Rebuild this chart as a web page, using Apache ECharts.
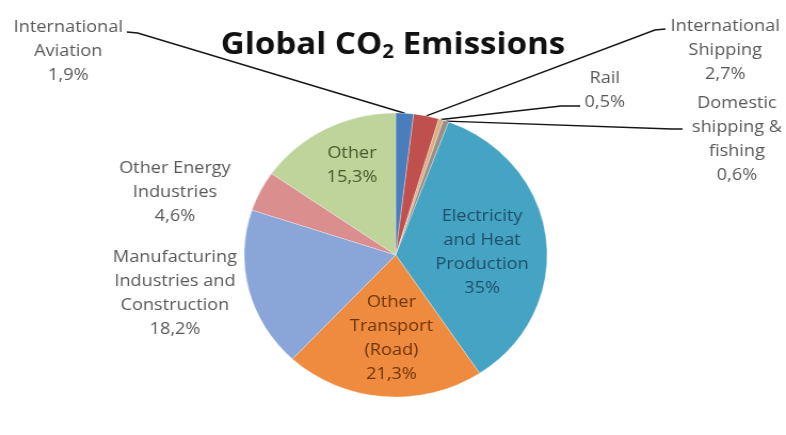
<!DOCTYPE html>
<html>
<head>
<meta charset="utf-8">
<script src="https://cdn.jsdelivr.net/npm/echarts@6/dist/echarts.min.js"></script>
<style>
  html, body { margin: 0; padding: 0; background: #fff; overflow: hidden; }
  #wrap { width: 786px; height: 435px; overflow: hidden; }
  /* chart is drawn slightly narrower and widened to give the pie its oval look */
  #chart { width: 737px; height: 435px; transform: scaleX(1.0665); transform-origin: 0 0; }
</style>
</head>
<body>
<div id="wrap"><div id="chart"></div></div>
<script>
// Sectors, clockwise from 12 o'clock
const sectors = [
  'International Aviation',
  'International Shipping',
  'Rail',
  'Domestic shipping & fishing',
  'Electricity and Heat Production',
  'Other Transport (Road)',
  'Manufacturing Industries and Construction',
  'Other Energy Industries',
  'Other'
];
// Share of global CO2 emissions, %
const shares = [1.9, 2.7, 0.5, 0.6, 35, 21.3, 18.2, 4.6, 15.3];
// Wrapped label text for each sector
const labelText = [
  'International\nAviation',
  'International\nShipping',
  'Rail',
  'Domestic\nshipping &\nfishing',
  'Electricity\nand Heat\nProduction',
  'Other\nTransport\n(Road)',
  'Manufacturing\nIndustries and\nConstruction',
  'Other Energy\nIndustries',
  'Other'
];

const colors = ['#4a7dbb', '#c0504d', '#dcae82', '#9a8f86', '#45a4c3',
                '#ef8b3f', '#8aa6d9', '#da8e8e', '#bed49b'];
const textColors = ['#595959', '#595959', '#595959', '#595959', '#1d4f6b',
                    '#6e3408', '#595959', '#595959', '#47582a'];
// label centre (x, y) and leader end / bend points
const labelPos = [
  { x: 64,  y: 51,  end: [119, 32], bend: [129, 33] },
  { x: 680, y: 50,  end: [624, 29], bend: [614, 30] },
  { x: 567, y: 90,  end: [544, 106], bend: [526, 106] },
  { x: 691, y: 139, end: [640, 129], bend: [630, 129] },
  { x: 452, y: 252 },
  { x: 367, y: 338 },
  { x: 164, y: 293 },
  { x: 164, y: 192 },
  { x: 330, y: 165 }
];
const withLeader = [true, true, true, true, false, false, false, false, false];

function fmt(v) { return String(v).replace('.', ',') + '%'; }

const chart = echarts.init(document.getElementById('chart'), null, { renderer: 'canvas' });

chart.setOption({
  animation: false,
  backgroundColor: '#fff',
  title: {
    text: '{a|Global CO}{s|2}{a| Emissions}',
    left: 'center',
    top: 23,
    textStyle: {
      rich: {
        a: { fontFamily: 'Open Sans', fontWeight: 'bold', fontSize: 31, color: '#111' },
        s: { fontFamily: 'Open Sans', fontWeight: 'bold', fontSize: 19, color: '#111', padding: [15, 0, 0, 0] }
      }
    }
  },
  series: [{
    type: 'pie',
    center: [371, 255],
    radius: 142,
    startAngle: 90,
    clockwise: true,
    avoidLabelOverlap: false,
    emphasis: { disabled: true },
    itemStyle: { borderColor: 'rgba(255,255,255,0.5)', borderWidth: 0.6 },
    label: {
      show: true,
      position: 'outside',
      fontFamily: 'Open Sans',
      fontSize: 17,
      lineHeight: 24,
      align: 'center',
      color: '#595959'
    },
    labelLine: { show: false, lineStyle: { color: '#151515', width: 1.4 } },
    data: sectors.map((name, i) => ({
      name: name,
      value: shares[i],
      itemStyle: { color: colors[i] },
      label: {
        formatter: labelText[i] + '\n' + fmt(shares[i]),
        color: textColors[i]
      },
      labelLine: { show: withLeader[i], length: 10, length2: 10 }
    })),
    labelLayout: function (params) {
      const p = labelPos[params.dataIndex];
      const out = { x: p.x, y: p.y, align: 'center', verticalAlign: 'middle', hideOverlap: false, moveOverlap: null };
      if (p.end && params.labelLinePoints) {
        out.labelLinePoints = [params.labelLinePoints[0], p.bend, p.end];
      }
      return out;
    }
  }]
});
</script>
</body>
</html>
